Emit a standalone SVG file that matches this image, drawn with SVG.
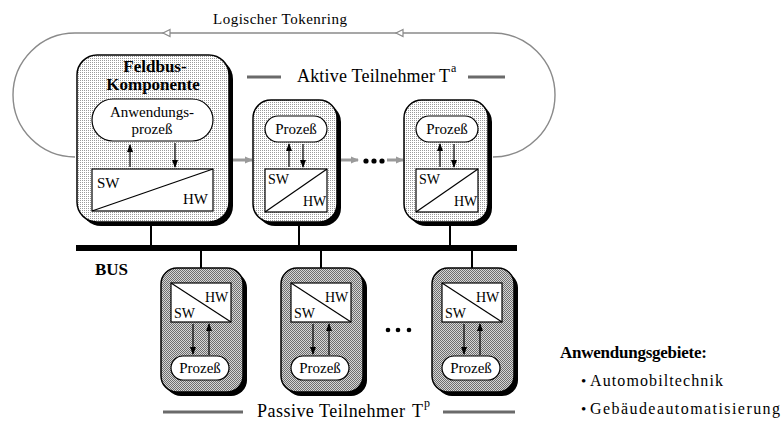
<svg xmlns="http://www.w3.org/2000/svg" width="782" height="432" viewBox="0 0 782 432" font-family="'Liberation Serif','DejaVu Serif','Noto Serif',serif">
<style>
text{font-family:"Liberation Serif","DejaVu Serif","Noto Serif",serif;fill:#000}
.box-a{fill:url(#dotA);stroke:#000;stroke-width:1.5}
.box-p{fill:url(#dotP);stroke:#000;stroke-width:1.5}
.shadow{fill:#000}
.inner{fill:#fff;stroke:#000;stroke-width:1.2}
.diag{stroke:#000;stroke-width:1.2;fill:none}
.arr{stroke:#000;stroke-width:1.2;fill:none;marker-end:url(#ah)}
.conn{stroke:#000;stroke-width:2;fill:none}
.ring{stroke:#8a8a8a;stroke-width:1.4;fill:none}
.garr{stroke:#9a9a9a;stroke-width:3;fill:none;marker-end:url(#gh)}
.leg{stroke:#6a6a6a;stroke-width:3;fill:none}
.lbl{font-size:15px}
.sm{font-size:14px}
.pz{font-size:15px}
</style>
<defs>
<pattern id="dotA" width="2" height="2" patternUnits="userSpaceOnUse"><rect width="2" height="2" fill="#ffffff"/><rect width="1" height="1" fill="#9a9a9a"/></pattern>
<pattern id="dotP" width="2" height="2" patternUnits="userSpaceOnUse"><rect width="2" height="2" fill="#d6d6d6"/><rect width="1" height="1" fill="#6e6e6e"/><rect x="1" y="1" width="1" height="1" fill="#6e6e6e"/></pattern>
<marker id="ah" viewBox="0 0 8 8" refX="7" refY="4" markerWidth="8" markerHeight="8" markerUnits="userSpaceOnUse" orient="auto"><path d="M0 1 L8 4 L0 7 Z" fill="#000"/></marker>
<marker id="gh" viewBox="0 0 8 8" refX="7" refY="4" markerWidth="8" markerHeight="8" markerUnits="userSpaceOnUse" orient="auto"><path d="M0 0.5 L8 4 L0 7.5 Z" fill="#9a9a9a"/></marker>
</defs>
<rect width="782" height="432" fill="#fff"/>

<g id="tokenring">
<path class="ring" d="M493 157 A62 62 0 0 0 493 33 L75 33 A62 62 0 0 0 75 157"/>
<path d="M170 29.5 L163 33 L170 36.5 Z" fill="#fff" stroke="#8a8a8a" stroke-width="1.2"/>
<path d="M403 29.5 L396 33 L403 36.5 Z" fill="#fff" stroke="#8a8a8a" stroke-width="1.2"/>
<text x="213" y="24" font-size="15" textLength="134" lengthAdjust="spacing">Logischer Tokenring</text>
</g>

<g id="connectors">
<rect x="76" y="245" width="441" height="6" fill="#000"/>
<line class="conn" x1="151" y1="224" x2="151" y2="245"/>
<line class="conn" x1="299" y1="224" x2="299" y2="245"/>
<line class="conn" x1="450" y1="224" x2="450" y2="245"/>
<line class="conn" x1="201" y1="251" x2="201" y2="268"/>
<line class="conn" x1="321" y1="251" x2="321" y2="268"/>
<line class="conn" x1="472" y1="251" x2="472" y2="268"/>
<line class="garr" x1="233" y1="160" x2="252" y2="160"/>
<line class="garr" x1="340" y1="160" x2="358" y2="160"/>
<line class="garr" x1="387" y1="160" x2="403" y2="160"/>
<circle cx="366" cy="161" r="2.6"/>
<circle cx="374" cy="161" r="2.6"/>
<circle cx="382" cy="161" r="2.6"/>
<circle cx="388" cy="330" r="2.3"/>
<circle cx="398" cy="330" r="2.3"/>
<circle cx="409" cy="330" r="2.3"/>
</g>

<g id="feldbus">
<rect class="shadow" x="81" y="59" width="152" height="167" rx="20"/>
<rect class="box-a" x="77" y="55" width="152" height="167" rx="20"/>
<text x="155" y="72" text-anchor="middle" font-size="17" font-weight="bold">Feldbus-</text>
<text x="153" y="90" text-anchor="middle" font-size="17" font-weight="bold">Komponente</text>
<rect class="inner" x="92" y="99" width="121" height="42" rx="21"/>
<text x="152" y="117" text-anchor="middle" font-size="15">Anwendungs-</text>
<text x="152" y="134" text-anchor="middle" font-size="15">prozeß</text>
<line class="arr" x1="130" y1="167" x2="130" y2="145"/>
<line class="arr" x1="175" y1="143" x2="175" y2="167"/>
<rect class="inner" x="92" y="169" width="121" height="42"/>
<path class="diag" d="M92 211 L213 169"/>
<text class="lbl" x="97" y="188">SW</text>
<text class="lbl" x="183" y="204">HW</text>
</g>

<g id="aktiv2">
<rect class="shadow" x="257" y="104" width="84" height="122" rx="18"/>
<rect class="box-a" x="253" y="100" width="84" height="122" rx="18"/>
<rect class="inner" x="265" y="116" width="62" height="26" rx="13"/>
<text class="pz" x="296" y="134" text-anchor="middle">Prozeß</text>
<line class="arr" x1="289" y1="167" x2="289" y2="144"/>
<line class="arr" x1="303" y1="144" x2="303" y2="167"/>
<rect class="inner" x="265" y="169" width="62" height="43"/>
<path class="diag" d="M265 212 L327 169"/>
<text class="sm" x="268" y="184">SW</text>
<text class="sm" x="303" y="206">HW</text>
</g>

<g id="aktiv3">
<rect class="shadow" x="408" y="104" width="84" height="122" rx="18"/>
<rect class="box-a" x="404" y="100" width="84" height="122" rx="18"/>
<rect class="inner" x="416" y="116" width="62" height="26" rx="13"/>
<text class="pz" x="447" y="134" text-anchor="middle">Prozeß</text>
<line class="arr" x1="440" y1="167" x2="440" y2="144"/>
<line class="arr" x1="454" y1="144" x2="454" y2="167"/>
<rect class="inner" x="416" y="169" width="62" height="43"/>
<path class="diag" d="M416 212 L478 169"/>
<text class="sm" x="419" y="184">SW</text>
<text class="sm" x="454" y="206">HW</text>
</g>

<g id="passiv1">
<rect class="shadow" x="165" y="272" width="82" height="124" rx="16"/>
<rect class="box-p" x="161" y="268" width="82" height="124" rx="16"/>
<rect class="inner" x="171" y="283" width="60" height="39"/>
<path class="diag" d="M171 283 L231 322"/>
<text class="sm" x="205" y="302">HW</text>
<text class="sm" x="174" y="318">SW</text>
<line class="arr" x1="193" y1="324" x2="193" y2="354"/>
<line class="arr" x1="209" y1="355" x2="209" y2="324"/>
<rect class="inner" x="171" y="356" width="58" height="24" rx="12"/>
<text class="pz" x="200" y="373" text-anchor="middle">Prozeß</text>
</g>

<g id="passiv2">
<rect class="shadow" x="285" y="272" width="82" height="124" rx="16"/>
<rect class="box-p" x="281" y="268" width="82" height="124" rx="16"/>
<rect class="inner" x="291" y="283" width="60" height="39"/>
<path class="diag" d="M291 283 L351 322"/>
<text class="sm" x="325" y="302">HW</text>
<text class="sm" x="294" y="318">SW</text>
<line class="arr" x1="313" y1="324" x2="313" y2="354"/>
<line class="arr" x1="329" y1="355" x2="329" y2="324"/>
<rect class="inner" x="291" y="356" width="58" height="24" rx="12"/>
<text class="pz" x="320" y="373" text-anchor="middle">Prozeß</text>
</g>

<g id="passiv3">
<rect class="shadow" x="436" y="272" width="82" height="124" rx="16"/>
<rect class="box-p" x="432" y="268" width="82" height="124" rx="16"/>
<rect class="inner" x="442" y="283" width="60" height="39"/>
<path class="diag" d="M442 283 L502 322"/>
<text class="sm" x="476" y="302">HW</text>
<text class="sm" x="445" y="318">SW</text>
<line class="arr" x1="464" y1="324" x2="464" y2="354"/>
<line class="arr" x1="480" y1="355" x2="480" y2="324"/>
<rect class="inner" x="442" y="356" width="58" height="24" rx="12"/>
<text class="pz" x="471" y="373" text-anchor="middle">Prozeß</text>
</g>

<g id="labels">
<line class="leg" x1="247" y1="77" x2="281" y2="77"/>
<line class="leg" x1="468" y1="77" x2="505" y2="77"/>
<text x="297" y="82" font-size="18" textLength="138" lengthAdjust="spacing">Aktive Teilnehmer</text>
<text x="439" y="82" font-size="18">T</text>
<text x="451" y="72" font-size="12">a</text>
<text x="95" y="275" font-size="17" font-weight="bold">BUS</text>
<line class="leg" x1="163" y1="412" x2="243" y2="412"/>
<line class="leg" x1="443" y1="412" x2="515" y2="412"/>
<text x="257" y="417" font-size="18" textLength="148" lengthAdjust="spacing">Passive Teilnehmer</text>
<text x="412" y="417" font-size="18">T</text>
<text x="424" y="407" font-size="12">p</text>
<text x="560" y="358" font-size="17" font-weight="bold" textLength="147" lengthAdjust="spacing">Anwendungsgebiete:</text>
<text x="581" y="386" font-size="15">•</text>
<text x="590" y="386" font-size="16" textLength="133" lengthAdjust="spacing">Automobiltechnik</text>
<text x="581" y="414" font-size="15">•</text>
<text x="590" y="414" font-size="16" textLength="190" lengthAdjust="spacing">Gebäudeautomatisierung</text>
</g>
</svg>
